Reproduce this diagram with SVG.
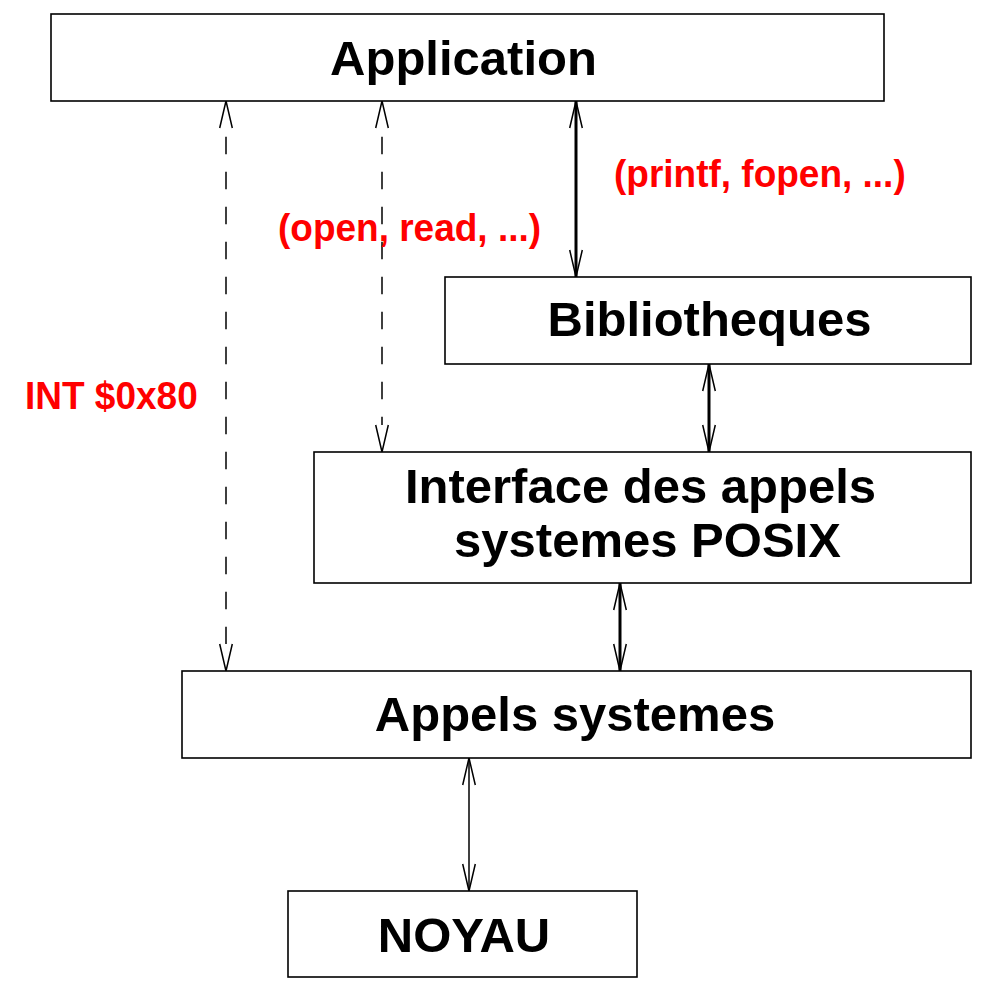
<svg xmlns="http://www.w3.org/2000/svg" width="1003" height="993" viewBox="0 0 1003 993">
<style>
.box{fill:#fff;stroke:#000;stroke-width:1.6}
.lbl{font-family:"Liberation Sans",Arial,sans-serif;font-weight:bold;font-size:49px;fill:#000;text-anchor:middle}
.red{font-family:"Liberation Sans",Arial,sans-serif;font-weight:bold;font-size:37px;fill:#ff0000}
.thin{stroke:#000;stroke-width:1.5;fill:none}
.thick{stroke:#000;stroke-width:3;fill:none}
.dash{stroke:#000;stroke-width:1.5;fill:none;stroke-dasharray:17.5 17.5;stroke-dashoffset:26.3}
</style>
<defs>
<marker id="tip" markerUnits="userSpaceOnUse" orient="auto-start-reverse" markerWidth="30" markerHeight="16" refX="27" refY="8" viewBox="0 0 30 16" overflow="visible">
<path d="M0,1.7 L27,8 L0,14.3" fill="none" stroke="#000" stroke-width="1.5"/>
</marker>
<marker id="open" markerUnits="userSpaceOnUse" orient="auto-start-reverse" markerWidth="30" markerHeight="16" refX="0" refY="8" viewBox="0 0 30 16" overflow="visible">
<path d="M0,1.7 L27,8 L0,14.3" fill="none" stroke="#000" stroke-width="1.5"/>
</marker>
</defs>
<rect width="1003" height="993" fill="#fff"/>
<g id="connectors">
<line class="dash" x1="226" y1="128" x2="226" y2="644" marker-start="url(#open)" marker-end="url(#open)"/>
<line class="dash" x1="382" y1="128" x2="382" y2="425" marker-start="url(#open)" marker-end="url(#open)"/>
<line class="thick" x1="576" y1="101" x2="576" y2="277" marker-start="url(#tip)" marker-end="url(#tip)"/>
<line class="thick" x1="709" y1="364" x2="709" y2="452" marker-start="url(#tip)" marker-end="url(#tip)"/>
<line class="thick" x1="620" y1="583" x2="620" y2="671" marker-start="url(#tip)" marker-end="url(#tip)"/>
<line class="thin" x1="469" y1="758" x2="469" y2="891" marker-start="url(#tip)" marker-end="url(#tip)"/>
</g>
<g id="application">
<rect class="box" x="51" y="14" width="833" height="87"/>
<text class="lbl" x="463.5" y="75">Application</text>
</g>
<g id="bibliotheques">
<rect class="box" x="445" y="277" width="526" height="87"/>
<text class="lbl" x="709.5" y="336">Bibliotheques</text>
</g>
<g id="interface">
<rect class="box" x="314" y="452" width="657" height="131"/>
<text class="lbl" x="640.5" y="503">Interface des appels</text>
<text class="lbl" x="647.5" y="557">systemes POSIX</text>
</g>
<g id="appels">
<rect class="box" x="182" y="671" width="789" height="87"/>
<text class="lbl" x="575" y="731">Appels systemes</text>
</g>
<g id="noyau">
<rect class="box" x="288" y="891" width="349" height="86"/>
<text class="lbl" x="464" y="952">NOYAU</text>
</g>
<g id="labels">
<text class="red" transform="translate(614,187) scale(1,1.05)">(printf, fopen, ...)</text>
<text class="red" transform="translate(278,241) scale(1,1.05)">(open, read, ...)</text>
<text class="red" transform="translate(25,409) scale(1,1.05)">INT $0x80</text>
</g>
</svg>
